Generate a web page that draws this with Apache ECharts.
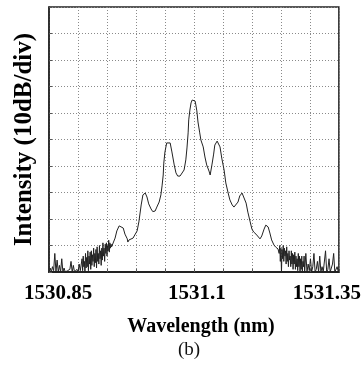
<!DOCTYPE html>
<html>
<head>
<meta charset="utf-8">
<script src="https://cdn.jsdelivr.net/npm/echarts@6/dist/echarts.min.js"></script>
<style>
  html, body { margin: 0; padding: 0; background: #fff; }
  #chart { width: 364px; height: 369px; }
</style>
</head>
<body>
<div id="chart"></div>
<script>
// tick labels shown on the wavelength axis
const xLabels = ['1530.85', '1531.1', '1531.35'];

// noise floor on the short-wavelength side
const leftNoiseWl = [
  1530.850, 1530.852, 1530.854, 1530.856, 1530.858, 1530.860, 1530.862, 1530.864, 1530.866, 1530.868,
  1530.870, 1530.872, 1530.874, 1530.876, 1530.878, 1530.880, 1530.882, 1530.884, 1530.886, 1530.888,
  1530.890, 1530.892, 1530.894, 1530.896, 1530.898, 1530.900, 1530.902, 1530.904,
  1530.906, 1530.907, 1530.908, 1530.909, 1530.910, 1530.911, 1530.912, 1530.913, 1530.914, 1530.915,
  1530.916, 1530.917, 1530.918, 1530.919, 1530.920, 1530.921, 1530.922, 1530.923, 1530.924, 1530.925,
  1530.926, 1530.927, 1530.928, 1530.929, 1530.930, 1530.931, 1530.932, 1530.933, 1530.934, 1530.935,
  1530.936, 1530.937, 1530.938, 1530.939, 1530.940, 1530.941, 1530.942, 1530.943, 1530.944, 1530.945,
  1530.946, 1530.947, 1530.948, 1530.949, 1530.950, 1530.951, 1530.952, 1530.953, 1530.954, 1530.955,
  1530.956, 1530.957, 1530.958
];
const leftNoiseDb = [
  0, 1.5, 0, 2, 0.5, 7, 0, 4.5, 0, 2.5,
  0, 5, 0, 1.5, 0, 0, 0.5, 0, 1, 4,
  0, 2.5, 0, 0, 1, 0, 3, 0.5,
  1, 5, 0.5, 6, 2, 4, 0, 7, 1.5, 5.5,
  2, 8, 0.5, 6, 3, 7.5, 1, 8, 2.5, 6.5,
  4, 9, 2, 7, 3.5, 8.5, 1.5, 9.5, 4, 7,
  3, 10, 5, 8, 2.5, 9, 4.5, 11, 6, 9,
  4, 10.5, 7, 11, 6, 10, 8, 12, 7.5, 11,
  9, 10.5, 9.5
];

// comb of side modes
const bandWl = [
  1530.960, 1530.964, 1530.967, 1530.971, 1530.974, 1530.978, 1530.981, 1530.985, 1530.986, 1530.988,
  1530.991, 1530.995, 1530.998, 1531.002, 1531.005, 1531.009, 1531.012, 1531.016, 1531.019, 1531.022,
  1531.026, 1531.029, 1531.033, 1531.036, 1531.040, 1531.043, 1531.045, 1531.047, 1531.048, 1531.050,
  1531.053, 1531.056, 1531.059, 1531.062, 1531.066, 1531.069, 1531.072, 1531.076, 1531.079, 1531.083,
  1531.086, 1531.088, 1531.090, 1531.091, 1531.093, 1531.095, 1531.097, 1531.098, 1531.100, 1531.102,
  1531.103, 1531.105, 1531.107, 1531.110, 1531.112, 1531.116, 1531.119, 1531.122, 1531.126, 1531.128,
  1531.131, 1531.134, 1531.136, 1531.140, 1531.142, 1531.145, 1531.148, 1531.152, 1531.155, 1531.159,
  1531.162, 1531.166, 1531.169, 1531.172, 1531.176, 1531.179, 1531.183, 1531.186, 1531.190, 1531.193,
  1531.197, 1531.200, 1531.203, 1531.207, 1531.210, 1531.214, 1531.217, 1531.221, 1531.224, 1531.228,
  1531.231, 1531.234, 1531.238, 1531.241, 1531.243, 1531.245
];
const bandDb = [
  9.8, 12.8, 15.5, 17.4, 17.7, 16.6, 14.3, 12.5, 11.3, 12.1,
  11.9, 12.8, 14, 15.5, 18.9, 25.3, 29.1, 29.8, 28.3, 25.7,
  23.8, 22.8, 23, 24.5, 26.4, 29.1, 32.5, 36.6, 41.1, 45.3,
  48.7, 49.4, 48.7, 45.3, 40.4, 37.4, 36.2, 36.2, 36.8, 38.5,
  42.3, 46.8, 52.5, 57.4, 61.1, 63.8, 64.9, 65.5, 65.3, 64.5,
  63.4, 60.8, 56.6, 52.5, 49.8, 47.2, 43.4, 40.4, 38.1, 36.6,
  40.4, 44.5, 47.9, 49.4, 49.1, 47.2, 43, 38.5, 33.6, 29.8,
  27.2, 25.3, 24.5, 24.9, 26.4, 28.7, 29.8, 29.1, 26, 22.6,
  18.9, 16.2, 15.1, 14.3, 13.6, 12.5, 13.6, 16.2, 17.7, 17,
  14.7, 12.1, 10.2, 9.4, 9.8, 8.7
];

// noise floor on the long-wavelength side
const rightNoiseWl = [
  1531.247, 1531.248, 1531.249, 1531.250, 1531.251, 1531.252, 1531.253, 1531.254, 1531.255, 1531.256,
  1531.257, 1531.258, 1531.259, 1531.260, 1531.261, 1531.262, 1531.263, 1531.264, 1531.265, 1531.266,
  1531.267, 1531.268, 1531.269, 1531.270, 1531.271, 1531.272, 1531.273, 1531.274, 1531.275, 1531.276,
  1531.277, 1531.278, 1531.279, 1531.280, 1531.281, 1531.282, 1531.283, 1531.284, 1531.285, 1531.286,
  1531.287, 1531.288, 1531.289, 1531.290,
  1531.291, 1531.293, 1531.295, 1531.297, 1531.299, 1531.301, 1531.303, 1531.305, 1531.307, 1531.309,
  1531.311, 1531.313, 1531.315, 1531.317, 1531.319, 1531.321, 1531.323, 1531.325, 1531.327, 1531.329,
  1531.331, 1531.333, 1531.335, 1531.337, 1531.339, 1531.341, 1531.343, 1531.345, 1531.347, 1531.349
];
const rightNoiseDb = [
  7, 10, 4, 9, 0, 8.5, 5, 10, 4, 9,
  6, 8, 3, 9.5, 4, 7, 2, 8, 4.5, 6,
  2, 8, 3, 7, 1, 6.5, 3, 7.5, 1, 6,
  2, 5, 0.5, 7, 2, 6, 0, 5, 1, 6,
  0, 4, 2, 6,
  0, 7, 0, 3, 0.5, 5, 0, 2, 7, 0,
  1, 4, 0, 6, 0, 2, 0, 0, 8, 0,
  1, 5, 0, 0, 3, 7, 0, 0, 2, 0
];

const wavelength = leftNoiseWl.concat(bandWl, rightNoiseWl);
const intensity = leftNoiseDb.concat(bandDb, rightNoiseDb);
const spectrum = wavelength.map((w, i) => [w, intensity[i]]);

const serif = 'Liberation Serif, Times New Roman, serif';
const labelFont = { fontFamily: serif, fontWeight: 'bold', fontSize: 21, color: '#000' };

const chart = echarts.init(document.getElementById('chart'));
chart.setOption({
  animation: false,
  grid: { left: 49, right: 25, top: 7, bottom: 97, show: true, borderColor: '#222', borderWidth: 1.5 },
  xAxis: {
    type: 'value',
    min: 1530.85,
    max: 1531.35,
    interval: 0.05,
    name: 'Wavelength (nm)',
    nameLocation: 'middle',
    nameGap: 45,
    nameTextStyle: { fontFamily: serif, fontWeight: 'bold', fontSize: 20, color: '#000', padding: [0, 0, 0, 14] },
    axisLine: { lineStyle: { color: '#222', width: 2 } },
    axisTick: { inside: true, length: 3, lineStyle: { color: '#555' } },
    splitLine: { show: true, lineStyle: { color: '#8a8a8a', type: [1, 2], width: 1 } },
    axisLabel: {
      margin: 11,
      fontFamily: serif,
      fontWeight: 'bold',
      fontSize: 21,
      color: '#000',
      formatter: function (v) {
        const s = String(Math.round(v * 100) / 100);
        const i = xLabels.indexOf(s);
        if (i < 0) return '';
        const key = i === 0 ? 'l' : (i === xLabels.length - 1 ? 'r' : 'c');
        return '{' + key + '|' + s + '}';
      },
      rich: {
        l: Object.assign({ padding: [0, 0, 0, 18] }, labelFont),
        c: Object.assign({ padding: [0, 0, 0, 6] }, labelFont),
        r: Object.assign({ padding: [0, 24, 0, 0] }, labelFont)
      }
    }
  },
  yAxis: {
    type: 'value',
    min: 0,
    max: 100,
    interval: 10,
    name: 'Intensity (10dB/div)',
    nameLocation: 'middle',
    nameGap: 12,
    nameTextStyle: { fontFamily: serif, fontWeight: 'bold', fontSize: 25, color: '#000' },
    axisLine: { show: true, lineStyle: { color: '#222', width: 1.5 } },
    axisTick: { show: true, inside: true, length: 3, lineStyle: { color: '#555' } },
    axisLabel: { show: false },
    splitLine: { show: true, lineStyle: { color: '#8a8a8a', type: [1, 2], width: 1 } }
  },
  graphic: [
    {
      type: 'text',
      left: 178,
      top: 341,
      style: { text: '(b)', fontFamily: serif, fontSize: 19, fill: '#111' }
    }
  ],
  series: [
    {
      type: 'line',
      data: spectrum,
      showSymbol: false,
      symbol: 'none',
      lineStyle: { color: '#222', width: 1 }
    }
  ]
});
</script>
</body>
</html>
